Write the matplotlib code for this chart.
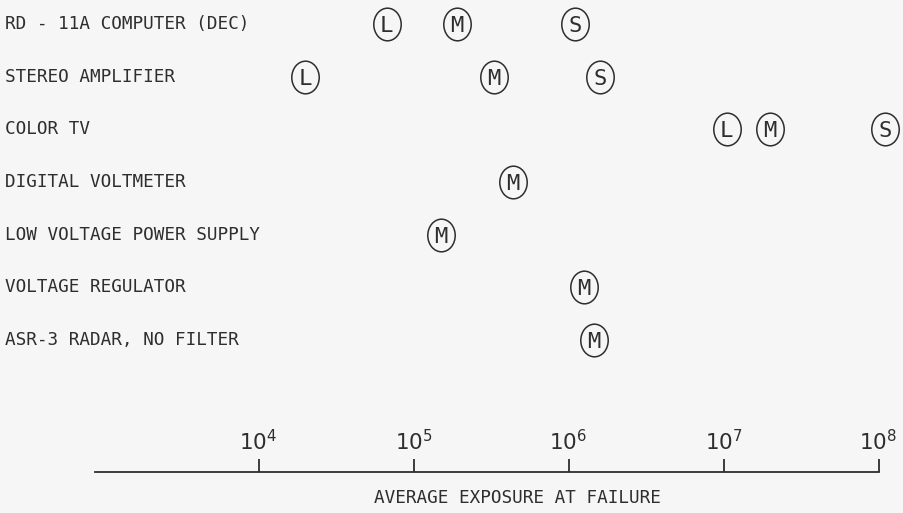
import matplotlib
matplotlib.use("Agg")
import matplotlib.pyplot as plt
from matplotlib.path import Path
from matplotlib.transforms import Affine2D, blended_transform_factory, offset_copy

# data (None = no mark)
equipment = [
    "RD - 11A COMPUTER (DEC)",
    "STEREO AMPLIFIER",
    "COLOR TV",
    "DIGITAL VOLTMETER",
    "LOW VOLTAGE POWER SUPPLY",
    "VOLTAGE REGULATOR",
    "ASR-3 RADAR, NO FILTER",
]
large = [6.7e4, 2.0e4, 1.05e7, None, None, None, None]
medium = [1.9e5, 3.3e5, 2.0e7, 4.4e5, 1.5e5, 1.25e6, 1.45e6]
small = [1.1e6, 1.6e6, 1.1e8, None, None, None, None]
decades = [1e4, 1e5, 1e6, 1e7, 1e8]

ink = "#2e2e2e"
bg = "#f6f6f6"
mono = "DejaVu Sans Mono"

fig = plt.figure(figsize=(9.04, 5.13), dpi=100, facecolor=bg)
ax = fig.add_axes([0, 0, 1, 1], facecolor=bg)
ax.set_xscale("log")
ax.set_xlim(10 ** 2.332, 10 ** 8.1645)
ax.set_ylim(9.284, -0.456)

# slightly tall ellipse marker
oval = Path.unit_circle().transformed(Affine2D().scale(0.84, 1.0))

letter_size = 16
# baseline shifted down by half the cap height so the letter sits centred
letter_tr = offset_copy(ax.transData, fig=fig, y=-letter_size * 0.729 / 2, units="points")

for series, letter in [(large, "L"), (medium, "M"), (small, "S")]:
    pts = [(v, i) for i, v in enumerate(series) if v is not None]
    xs = [p[0] for p in pts]
    ys = [p[1] for p in pts]
    ax.plot(xs, ys, linestyle="none", marker=oval, markersize=23.5,
            markerfacecolor="none", markeredgecolor=ink, markeredgewidth=1.1)
    for x, y in pts:
        ax.text(x, y, letter, transform=letter_tr, ha="center", va="baseline",
                fontsize=letter_size, family=mono, color=ink)

left = blended_transform_factory(ax.transAxes, ax.transData)
for i, name in enumerate(equipment):
    ax.text(0.0055, i, name, transform=left, ha="left", va="center",
            fontsize=12.7, family=mono, color=ink)

# the exposure axis: a single line with ticks pointing up, labels above
for side in ["left", "right", "bottom"]:
    ax.spines[side].set_visible(False)
ax.spines["top"].set_position(("data", 8.5))
ax.spines["top"].set_bounds(10 ** 2.945, 1e8)
ax.spines["top"].set_color(ink)
ax.spines["top"].set_linewidth(1.3)
ax.xaxis.tick_top()
ax.set_xticks(decades)
ax.xaxis.set_minor_locator(matplotlib.ticker.NullLocator())
ax.tick_params(axis="x", direction="out", length=9.4, width=1.3, color=ink,
               pad=3, labelsize=15.5, labelcolor=ink)
ax.set_yticks([])

ax.text(0.572, 0.0292, "AVERAGE EXPOSURE AT FAILURE", transform=ax.transAxes,
        ha="center", va="center", fontsize=12.7, family=mono, color=ink)

fig.savefig("out.png", dpi=100, facecolor=bg)
